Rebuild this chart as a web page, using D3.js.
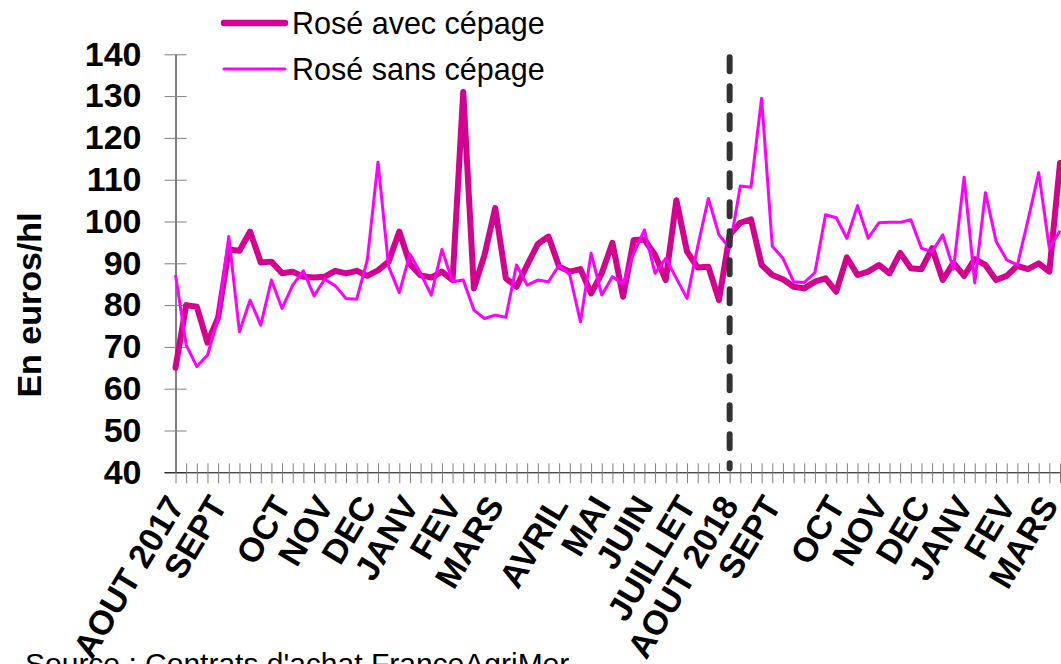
<!DOCTYPE html>
<html>
<head>
<meta charset="utf-8">
<script src="https://cdn.jsdelivr.net/npm/d3@7"></script>
<style>
  body { margin: 0; background: #fff; }
  svg { display: block; font-family: "Liberation Sans", Arial, sans-serif; }
</style>
</head>
<body>
<div id="chart"></div>
<script>
// weekly prices, Aug 2017 -> Mar 2019
const avecCepage = [65, 80, 79.6, 71, 77, 93.3, 93, 97.6, 90.2, 90.4,
  87.6, 88, 86.8, 86.6, 86.8, 88.2, 87.6, 88.2, 87, 88.3,
  90.4, 97.6, 89.8, 87.1, 86.6, 88, 86, 131, 84, 92,
  103.2, 86.4, 84.4, 89.6, 94.6, 96.4, 89.2, 88, 88.6, 82.8,
  87.6, 94.9, 82, 95.6, 95.7, 92, 86, 105.1, 92.8, 89,
  89.2, 81.2, 96.8, 99.7, 100.5, 89.6, 87.2, 86.2, 84.4, 84,
  85.6, 86.4, 83.2, 91.4, 87.2, 88, 89.6, 87.6, 92.5, 88.8,
  88.6, 93.6, 86, 90.1, 87, 91, 89.6, 86, 87, 89.4,
  88.6, 90, 88, 114];

const sansCepage = [87.2, 70.5, 65.3, 68, 76.8, 96.4, 73.6, 81.2, 75.2, 86,
  79.2, 84.8, 88.2, 82.2, 86.2, 84.6, 81.6, 81.4, 90.8, 114.2,
  89.2, 83, 92.2, 87.6, 82.4, 93.3, 85.6, 86, 78.8, 76.8,
  77.6, 77.1, 89.6, 84.8, 86, 85.6, 89.6, 87.2, 76, 92.4,
  82.4, 86.8, 85, 92.4, 98, 87.6, 91.2, 86.4, 81.6, 94,
  105.5, 96.8, 93.6, 108.5, 108.2, 129.5, 94.1, 91.2, 85.6, 85.4,
  87.8, 101.6, 100.9, 96, 103.8, 96, 99.7, 99.8, 99.8, 100.4,
  93.6, 92.8, 96.8, 88.6, 110.6, 85.3, 106.9, 95.3, 90.8, 89.6,
  100.4, 111.7, 93.6, 97.8];

// month labels sit on some of the weeks
const monthIdx = [0, 4, 10, 14, 18, 22, 26, 30, 36, 40, 44, 48, 52, 56, 62, 66, 70, 74, 78, 82];
const monthLabels = ["AOUT 2017", "SEPT", "OCT", "NOV", "DEC", "JANV", "FEV", "MARS", "AVRIL", "MAI",
  "JUIN", "JUILLET", "AOUT 2018", "SEPT", "OCT", "NOV", "DEC", "JANV", "FEV", "MARS"];

const yTicks = [40, 50, 60, 70, 80, 90, 100, 110, 120, 130, 140];
const markerIdx = 52;

const width = 1061, height = 664;
const svg = d3.select("#chart").append("svg")
  .attr("width", width)
  .attr("height", height);

const x = d3.scaleLinear()
  .domain([0, avecCepage.length - 1])
  .range([175.5, 1060]);

const y = d3.scaleLinear()
  .domain([40, 140])
  .range([472.3, 54.3]);

// y axis, ticks cross the line
const yAxis = svg.append("g")
  .attr("transform", `translate(${x(0)},0)`)
  .call(d3.axisLeft(y).tickValues(yTicks).tickSize(11).tickPadding(23).tickSizeOuter(0));
yAxis.select(".domain").attr("stroke", "#000");
yAxis.selectAll(".tick line").attr("stroke", "#808080");
yAxis.selectAll(".tick text")
  .attr("font-family", "'Liberation Sans', Arial, sans-serif")
  .attr("font-size", 34)
  .attr("font-weight", "bold")
  .attr("fill", "#000");

svg.append("g")
  .attr("transform", `translate(${x(0)},0)`)
  .call(d3.axisRight(y).tickValues(yTicks).tickSize(11).tickFormat(""))
  .call(g => g.select(".domain").remove())
  .call(g => g.selectAll(".tick line").attr("stroke", "#808080"));

// x axis: one tick per week
const weeks = d3.range(avecCepage.length);
svg.append("g")
  .attr("transform", `translate(0,${y(40)})`)
  .call(d3.axisBottom(x).tickValues(weeks).tickSize(11).tickFormat("").tickSizeOuter(0))
  .call(g => g.select(".domain").attr("stroke", "#000").attr("d", `M${x(0) - 11},0.5H${width}`))
  .call(g => g.selectAll(".tick line").attr("stroke", "#808080"));

svg.append("g")
  .attr("transform", `translate(0,${y(40)})`)
  .call(d3.axisTop(x).tickValues(weeks).tickSize(9).tickFormat(""))
  .call(g => g.select(".domain").remove())
  .call(g => g.selectAll(".tick line").attr("stroke", "#808080"));

svg.append("g")
  .selectAll("text")
  .data(monthIdx)
  .join("text")
  .attr("transform", d => `translate(${x(d) + 10},${y(40) + 33}) rotate(-59)`)
  .attr("text-anchor", "end")
  .attr("font-size", 34)
  .attr("font-weight", "bold")
  .text((d, i) => monthLabels[i]);

// series
const line = d3.line()
  .x((d, i) => x(i))
  .y(d => y(d));

svg.append("path")
  .datum(avecCepage)
  .attr("fill", "none")
  .attr("stroke", "#d4008f")
  .attr("stroke-width", 6)
  .attr("stroke-linejoin", "round")
  .attr("stroke-linecap", "round")
  .attr("d", line);

svg.append("path")
  .datum(sansCepage)
  .attr("fill", "none")
  .attr("stroke", "#ff00ff")
  .attr("stroke-width", 3)
  .attr("stroke-linejoin", "round")
  .attr("d", line);

// dashed marker at the start of the 2018 campaign
svg.append("line")
  .attr("x1", x(markerIdx)).attr("x2", x(markerIdx))
  .attr("y1", y(140) + 3).attr("y2", y(40) - 4)
  .attr("stroke", "#333")
  .attr("stroke-width", 6)
  .attr("stroke-linecap", "round")
  .attr("stroke-dasharray", "14,15");

// y title
svg.append("text")
  .attr("transform", "translate(41,305) rotate(-90)")
  .attr("text-anchor", "middle")
  .attr("font-size", 34)
  .attr("font-weight", "bold")
  .text("En euros/hl");

// legend
const legend = [
  { name: "Rosé avec cépage", color: "#d4008f", w: 6.5, y: 23 },
  { name: "Rosé sans cépage", color: "#ff00ff", w: 3, y: 69 }
];
const lg = svg.append("g");
lg.selectAll("line")
  .data(legend)
  .join("line")
  .attr("x1", 224).attr("x2", 285)
  .attr("y1", d => d.y).attr("y2", d => d.y)
  .attr("stroke", d => d.color)
  .attr("stroke-width", d => d.w)
  .attr("stroke-linecap", "round");
lg.selectAll("text")
  .data(legend)
  .join("text")
  .attr("x", 292)
  .attr("y", d => d.y + 11)
  .attr("font-size", 30.5)
  .text(d => d.name);

// source, cut by the bottom edge
svg.append("text")
  .attr("x", 25)
  .attr("y", 674)
  .attr("font-size", 30)
  .text("Source : Contrats d'achat FranceAgriMer");
</script>
</body>
</html>
